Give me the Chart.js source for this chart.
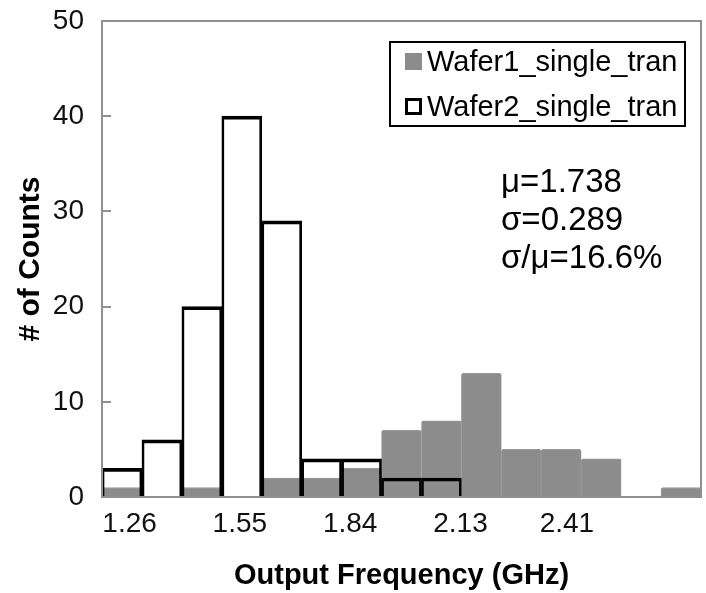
<!DOCTYPE html>
<html>
<head>
<meta charset="utf-8">
<script src="https://cdn.jsdelivr.net/npm/chart.js@4"></script>
<style>
  html, body { margin: 0; padding: 0; background: #fff; }
  #wrap { width: 706px; height: 593px; }
</style>
</head>
<body>
<div id="wrap"><canvas id="hist"></canvas></div>
<script>
// bin centres (GHz)
var binCenters = [1.24, 1.345, 1.45, 1.555, 1.66, 1.765, 1.87, 1.975, 2.08, 2.185, 2.29, 2.395, 2.50, 2.605, 2.71];
var wafer1Counts = [1, 0, 1, 0, 2, 2, 3, 7, 8, 13, 5, 5, 4, 0, 1];
var wafer2Counts = [3, 6, 20, 40, 29, 4, 4, 2, 2];
var xTickLabels = [1.26, 1.55, 1.84, 2.13, 2.41];
var statsLines = ["\u03bc=1.738", "\u03c3=0.289", "\u03c3/\u03bc=16.6%"];
var seriesNames = ["Wafer1_single_tran", "Wafer2_single_tran"];

var FONT = "'Liberation Sans', Arial, sans-serif";
var GRAY = "#8c8c8c";

function points(counts) {
  var out = [];
  for (var i = 0; i < counts.length; i++) {
    out.push({ x: binCenters[i], y: counts[i] });
  }
  return out;
}

var extras = {
  id: 'extras',
  afterDraw: function(chart) {
    var ctx = chart.ctx;
    var a = chart.chartArea;
    var ys = chart.scales.y;
    ctx.save();
    // plot frame
    ctx.strokeStyle = "#8f8f8f";
    ctx.lineWidth = 2;
    ctx.strokeRect(a.left, a.top, a.right - a.left, a.bottom - a.top);
    // inner tick marks on the y axis
    ys.ticks.forEach(function(t) {
      var py = Math.round(ys.getPixelForValue(t.value));
      ctx.beginPath();
      ctx.moveTo(a.left, py);
      ctx.lineTo(a.left + 9, py);
      ctx.stroke();
    });

    // legend box
    var lx = a.right - 311, ly = a.top + 21;
    ctx.strokeStyle = "#000";
    ctx.lineWidth = 2;
    ctx.strokeRect(lx, ly, 295, 84);
    ctx.font = "29px " + FONT;
    ctx.textBaseline = "middle";
    ctx.fillStyle = "#000";
    chart.data.datasets.forEach(function(ds, i) {
      var cy = ly + 20 + i * 45;
      if (i === 0) {
        ctx.fillStyle = ds.backgroundColor;
        ctx.fillRect(lx + 15, cy - 9, 17, 17);
      } else {
        ctx.fillStyle = "#fff";
        ctx.fillRect(lx + 15, cy - 9, 17, 17);
        ctx.lineWidth = 3;
        ctx.strokeStyle = "#000";
        ctx.strokeRect(lx + 16.5, cy - 7.5, 14, 14);
      }
      ctx.fillStyle = "#000";
      ctx.fillText(ds.label, lx + 37, cy + 1);
    });

    // statistics text
    ctx.font = "33px " + FONT;
    statsLines.forEach(function(s, i) {
      ctx.fillText(s, a.left + 399, a.top + 162 + i * 38);
    });
    ctx.restore();
  }
};

var chart = new Chart(document.getElementById("hist"), {
  type: "bar",
  data: {
    datasets: [{
      label: seriesNames[0],
      data: points(wafer1Counts),
      backgroundColor: GRAY,
      borderColor: "#999999",
      borderWidth: 1,
      borderRadius: 2,
      order: 2
    }, {
      label: seriesNames[1],
      data: points(wafer2Counts),
      backgroundColor: "rgba(255,255,255,0)",
      borderColor: "#000",
      borderWidth: { top: 3, left: 2, right: 2, bottom: 0 },
      order: 1
    }]
  },
  options: {
    responsive: true,
    maintainAspectRatio: false,
    animation: false,
    grouped: false,
    barPercentage: 1,
    categoryPercentage: 1,
    layout: { padding: { top: 21, right: 5, left: 0, bottom: 0 } },
    plugins: {
      legend: { display: false },
      tooltip: { enabled: false }
    },
    scales: {
      x: {
        type: "linear",
        offset: false,
        min: 1.1875,
        max: 2.7625,
        afterBuildTicks: function(scale) {
          scale.ticks = xTickLabels.map(function(v) { return { value: v }; });
        },
        afterFit: function(scale) { scale.height = 96; },
        grid: { display: false, drawTicks: false, offset: false },
        border: { display: false },
        ticks: {
          autoSkip: false,
          maxRotation: 0,
          padding: 10,
          color: "#111",
          font: { family: FONT, size: 28 },
          callback: function(v) { return Number(v).toFixed(2); }
        },
        title: {
          display: true,
          text: "Output Frequency (GHz)",
          color: "#000",
          font: { family: FONT, size: 29, weight: "bold" },
          padding: { top: 0, bottom: 0 }
        }
      },
      y: {
        min: 0,
        max: 50,
        afterFit: function(scale) {
          scale.width = 102;
          // keep the tick padding from pushing the plot down
          scale.paddingTop = 0;
          scale.paddingBottom = 0;
        },
        grid: { display: false, drawTicks: false },
        border: { display: false },
        ticks: {
          stepSize: 10,
          padding: 18,
          color: "#111",
          font: { family: FONT, size: 28 }
        },
        title: {
          display: true,
          text: "# of Counts",
          color: "#000",
          font: { family: FONT, size: 30, weight: "bold" },
          padding: { top: 13, bottom: 0 }
        }
      }
    }
  },
  plugins: [extras]
});
</script>
</body>
</html>
